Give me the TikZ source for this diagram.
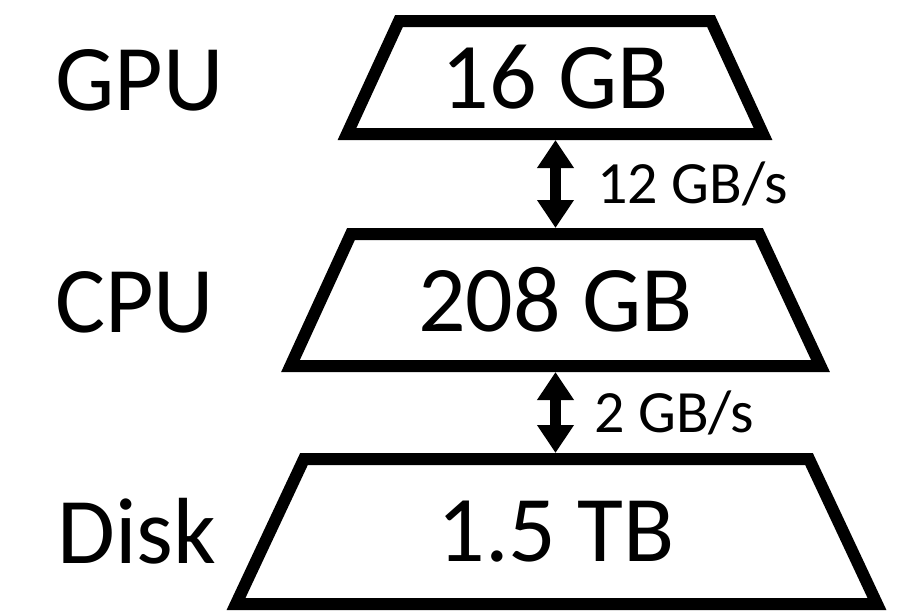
\documentclass[tikz,border=0pt]{standalone}
\usepackage{fontspec}
\setmainfont{Carlito}
\usetikzlibrary{arrows.meta}

\newcommand{\tierfont}{\fontsize{94}{100}\selectfont}
\newcommand{\ratefont}{\fontsize{60}{66}\selectfont}

\tikzset{
  tierline/.style={draw, line width=12pt, line join=miter},
  tiertext/.style={inner sep=0pt, font=\tierfont},
  level/.style={anchor=base west, inner sep=0pt, font=\tierfont},
  rate/.style={anchor=base west, inner sep=0pt, font=\ratefont},
  link/.style={line width=11pt, {Triangle[width=35pt,length=28pt]}-{Triangle[width=35pt,length=28pt]}}
}

\begin{document}
\begin{tikzpicture}[x=1pt, y=-1pt]
  \useasboundingbox (0,0) rectangle (903,611);

  % memory tiers, widening towards the bottom
  \draw[tierline] (399,21) -- (711,21) -- (763,134) -- (347,134) -- cycle;
  \draw[tierline] (351,234) -- (759,234) -- (820.5,366) -- (290.5,366) -- cycle;
  \draw[tierline] (304,459) -- (809,459) -- (877,604) -- (236,604) -- cycle;

  \node[tiertext] (gpu)  at (555,77.5)  {16 GB};
  \node[tiertext] (cpu)  at (555.5,300) {208 GB};
  \node[tiertext] (disk) at (556,532)   {1.5 TB};

  % outer edges of the tiers where the links meet them
  \coordinate (gpu-bot)  at (555.5,140);
  \coordinate (cpu-top)  at (555.5,228);
  \coordinate (cpu-bot)  at (555.5,372);
  \coordinate (disk-top) at (555.5,453);

  % tier names
  \node[level] (gpul)  at (55,110) {GPU};
  \node[level] (cpul)  at (55,332) {CPU};
  \node[level] (diskl) at (57,563) {Disk};

  % transfer links with bandwidths
  \draw[link] (gpu-bot) -- (cpu-top);
  \draw[link] (cpu-bot) -- (disk-top);
  \node[rate] (r1) at (597,203) {12 GB/s};
  \node[rate] (r2) at (594,432) {2 GB/s};
\end{tikzpicture}
\end{document}
